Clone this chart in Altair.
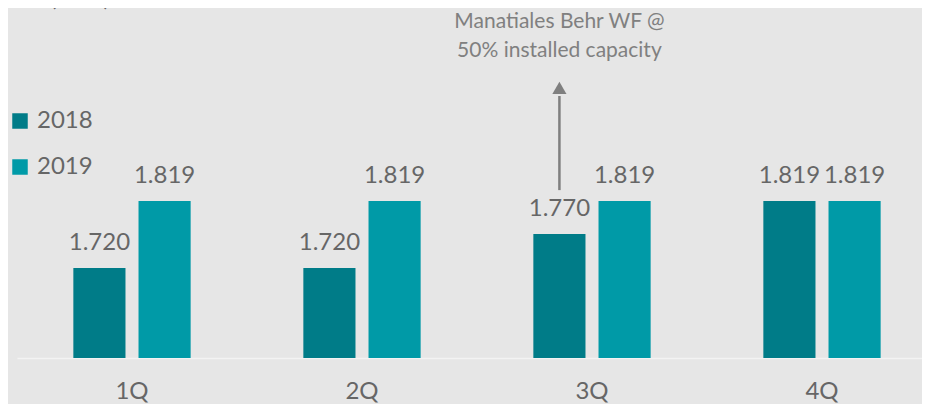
import altair as alt
import pandas as pd

quarters = ["1Q", "2Q", "3Q", "4Q"]
years = ["2018", "2019"]
mw_2018 = [1.720, 1.720, 1.770, 1.819]
mw_2019 = [1.819, 1.819, 1.819, 1.819]
colors = ["#007c88", "#009aa7"]
y_min, y_max = 1.587, 2.104

note_text = "Manatiales Behr WF @\n50% installed capacity"
note_quarter = "3Q"
note_year = "2018"
note_y = 2.083
arrow_from = 1.835
arrow_to = 1.974
arrow_head = 1.986
unit_label = "(MW)"

rows = []
for q, a, b in zip(quarters, mw_2018, mw_2019):
    rows.append({"quarter": q, "year": "2018", "mw": a})
    rows.append({"quarter": q, "year": "2019", "mw": b})
df = pd.DataFrame(rows)

note_df = pd.DataFrame([{"quarter": note_quarter, "year": note_year, "text": note_text,
                         "y": note_y, "y0": arrow_from, "y1": arrow_to, "yh": arrow_head}])

FONT = "Lato"
GRAY = "#666666"

x_enc = alt.X("quarter:N", sort=quarters,
              scale=alt.Scale(domain=quarters, range=[9, 929], paddingInner=0.49, paddingOuter=0.245),
              axis=alt.Axis(title=None, labelAngle=0, labelFontSize=24, labelColor=GRAY, labelFont=FONT,
                            ticks=False, domainColor="#f3f3f3", domainWidth=1.5, labelPadding=21,
                            labelBaseline="top"))
xo_enc = alt.XOffset("year:N", sort=years, scale=alt.Scale(domain=years, paddingInner=0.2))
y_scale = alt.Scale(domain=[y_min, y_max], zero=False, nice=False)

bars = alt.Chart(df).mark_bar().encode(
    x=x_enc,
    xOffset=xo_enc,
    y=alt.Y("mw:Q", scale=y_scale, axis=None),
    y2=alt.Y2(datum=y_min),
    color=alt.Color("year:N", scale=alt.Scale(domain=years, range=colors),
                    legend=alt.Legend(title=None, orient="none", legendX=0, legendY=101,
                                      symbolType="square", symbolSize=240, symbolStrokeWidth=0,
                                      labelFontSize=24, labelColor=GRAY, labelFont=FONT,
                                      labelOffset=5, rowPadding=22)),
)

labels = alt.Chart(df).mark_text(baseline="bottom", dy=-13, fontSize=24, font=FONT, color=GRAY).encode(
    x=alt.X("quarter:N", sort=quarters),
    xOffset=alt.XOffset("year:N", sort=years),
    y=alt.Y("mw:Q"),
    text=alt.Text("mw:Q", format=".3f"),
)

note = alt.Chart(note_df).mark_text(lineBreak="\n", fontSize=21, font=FONT, color="#808080",
                                    baseline="middle", lineHeight=29).encode(
    x=alt.X("quarter:N", sort=quarters),
    xOffset=alt.XOffset("year:N", sort=years),
    y=alt.Y("y:Q"),
    text="text:N",
)

arrow = alt.Chart(note_df).mark_rule(color="#7f7f7f", strokeWidth=2.5).encode(
    x=alt.X("quarter:N", sort=quarters),
    xOffset=alt.XOffset("year:N", sort=years),
    y=alt.Y("y0:Q"),
    y2="y1:Q",
)

head = alt.Chart(note_df).mark_point(shape="triangle-up", filled=True, size=200, color="#7f7f7f",
                                     opacity=1).encode(
    x=alt.X("quarter:N", sort=quarters),
    xOffset=alt.XOffset("year:N", sort=years),
    y=alt.Y("yh:Q"),
)

unit = alt.Chart(pd.DataFrame([{"t": unit_label}])).mark_text(
    fontSize=24, font=FONT, color=GRAY, align="left", baseline="bottom").encode(
    x=alt.value(42), y=alt.value(3), text="t:N")

chart = alt.layer(bars, labels, arrow, head, note, unit).properties(
    width=914, height=350,
    padding={"left": 0, "top": 0, "right": 0, "bottom": 46},
    autosize=alt.AutoSizeParams(type="none"),
    background="#e6e6e6",
).configure_view(stroke=None)

chart.save("out.html", embed_options={"renderer": "svg", "actions": False})
